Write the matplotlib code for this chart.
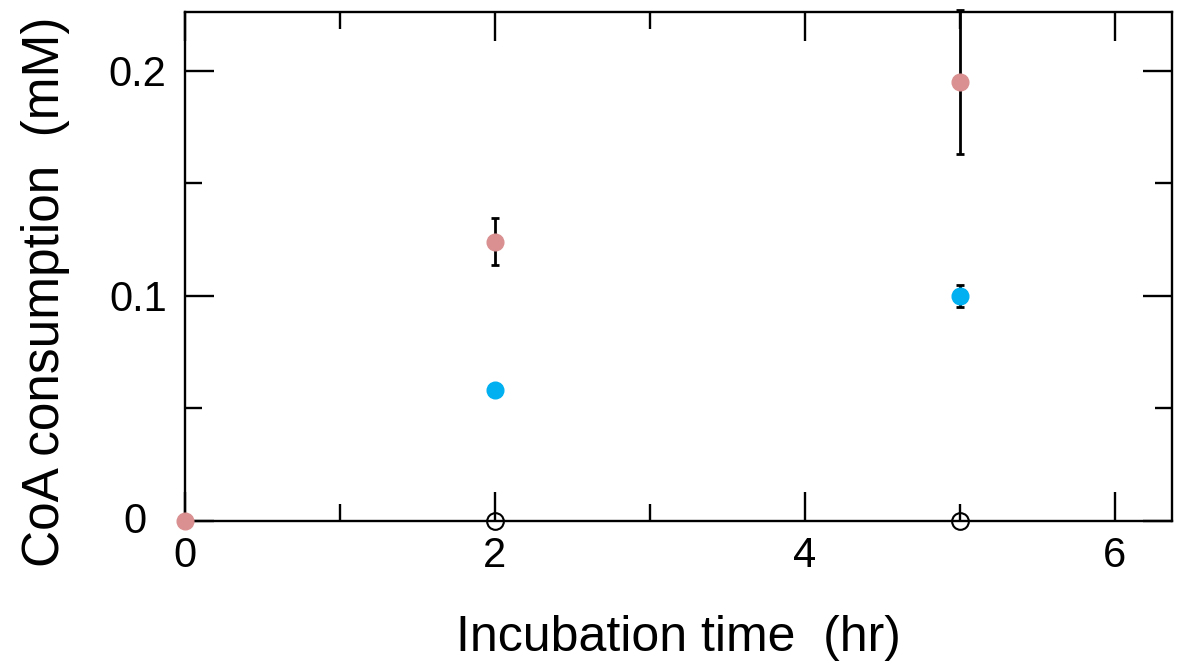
import matplotlib
matplotlib.use("Agg")
import matplotlib.pyplot as plt
import matplotlib.transforms as mtransforms
from matplotlib.ticker import MultipleLocator

plt.rcParams['font.family'] = ['Liberation Sans', 'DejaVu Sans']

# CoA consumption vs incubation time
time_a = [0, 2, 5]
coa_a = [0.0, 0.124, 0.195]
err_a = [0.0, 0.0105, 0.032]

time_b = [2, 5]
coa_b = [0.058, 0.0997]
err_b = [0.0, 0.0049]

time_c = [2, 5]
coa_c = [0.0, 0.0]

fig = plt.figure(figsize=(11.77, 6.66), dpi=100)
ax = fig.add_axes([0.157, 0.218, 0.8387, 0.764])

ax.errorbar(time_a, coa_a, yerr=err_a, fmt='o', color='#DA9090', ms=12,
            ecolor='black', elinewidth=2, capsize=3, capthick=2, zorder=3)
ax.errorbar(time_b, coa_b, yerr=err_b, fmt='o', color='#00B0F0', ms=12,
            ecolor='black', elinewidth=2, capsize=3, capthick=2, zorder=3)
ax.plot(time_c, coa_c, 'o', mfc='none', mec='black', ms=12, mew=1.5,
        zorder=4, clip_on=False)

ax.set_xlim(0, 6.37)
ax.set_ylim(0, 0.226)

ax.xaxis.set_major_locator(MultipleLocator(2))
ax.xaxis.set_minor_locator(MultipleLocator(1))
ax.yaxis.set_minor_locator(MultipleLocator(0.05))
ax.set_yticks([0, 0.1, 0.2])
ax.set_yticklabels(['0', '0.1', '0.2'])

for s in ax.spines.values():
    s.set_linewidth(1.7)
ax.tick_params(which='both', direction='in', top=True, right=True,
               width=1.7, labelsize=30)
ax.tick_params(which='major', length=21)
ax.tick_params(axis='y', which='major', pad=13)
ax.tick_params(axis='x', which='major', pad=11)
ax.tick_params(which='minor', length=12)

# the zero label on the y axis sits a bit further left in the original
fig.canvas.draw()
ylab0 = ax.get_yticklabels()[0]
ylab0.set_transform(ylab0.get_transform() +
                    mtransforms.ScaledTranslation(-20 / 100, 3 / 100, fig.dpi_scale_trans))

ax.set_xlabel('Incubation time  (hr)', fontsize=36, labelpad=28)
ax.set_ylabel('CoA consumption  (mM)', fontsize=37, labelpad=28)
ax.yaxis.label.set_y(0.45)

for m in ax.lines + ax.collections:
    m.set_clip_on(False)

fig.savefig('out.png', dpi=100)
